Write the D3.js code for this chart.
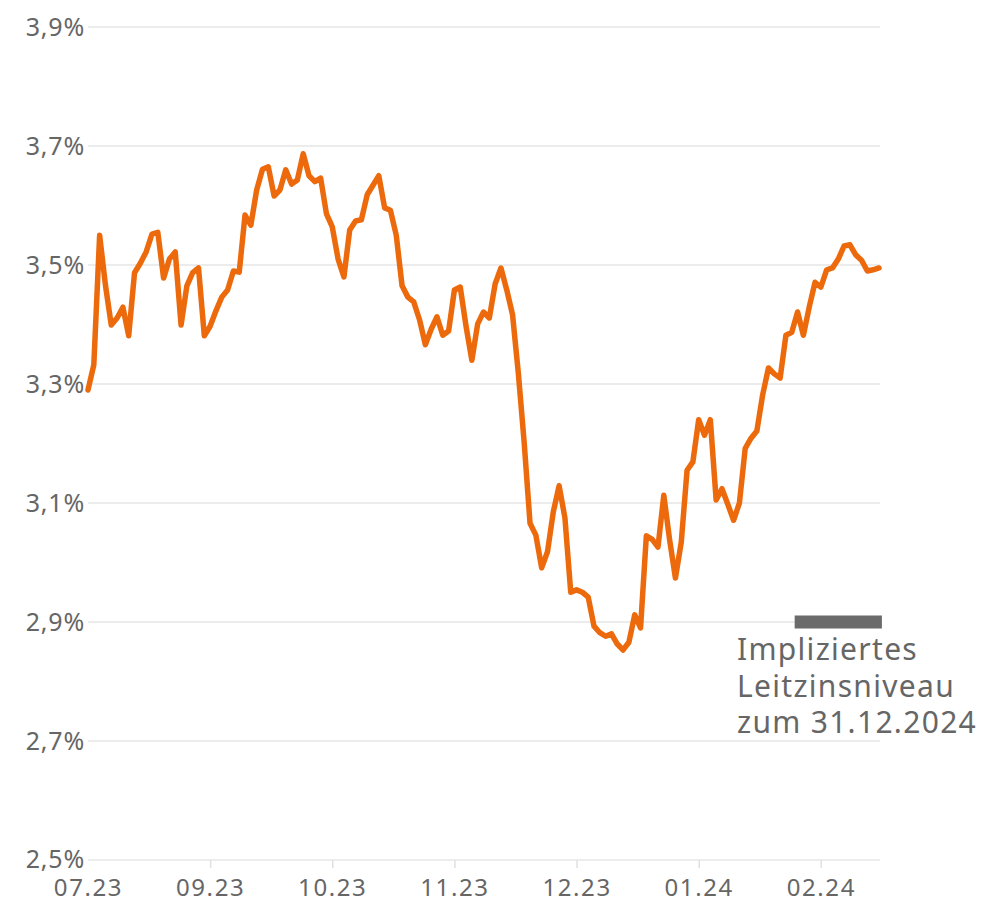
<!DOCTYPE html>
<html>
<head>
<meta charset="utf-8">
<script src="https://cdn.jsdelivr.net/npm/d3@7"></script>
<style>
  body { margin: 0; background: #fff; }
  svg text { font-family: "Noto Sans", sans-serif; fill: #666; }
</style>
</head>
<body>
<div id="chart"></div>
<script>
// values, one per trading day (even spacing)
const rates = [
  3.290, 3.332, 3.550, 3.466, 3.399, 3.411, 3.429, 3.381, 3.487, 3.503,
  3.522, 3.552, 3.555, 3.478, 3.510, 3.522, 3.399, 3.465, 3.487, 3.495,
  3.381, 3.397, 3.423, 3.446, 3.458, 3.490, 3.488, 3.584, 3.567, 3.626,
  3.661, 3.665, 3.616, 3.626, 3.660, 3.636, 3.643, 3.687, 3.650, 3.640,
  3.646, 3.586, 3.564, 3.510, 3.480, 3.559, 3.574, 3.576, 3.618, 3.634,
  3.650, 3.596, 3.592, 3.550, 3.465, 3.446, 3.438, 3.408, 3.366, 3.392,
  3.413, 3.382, 3.389, 3.458, 3.463, 3.397, 3.340, 3.401, 3.421, 3.411,
  3.468, 3.495, 3.458, 3.416, 3.317, 3.201, 3.066, 3.046, 2.991, 3.018,
  3.085, 3.129, 3.075, 2.950, 2.954, 2.950, 2.942, 2.893, 2.882, 2.876,
  2.880, 2.863, 2.853, 2.866, 2.912, 2.890, 3.045, 3.039, 3.026, 3.113,
  3.038, 2.974, 3.034, 3.155, 3.169, 3.240, 3.214, 3.240, 3.105, 3.124,
  3.098, 3.071, 3.100, 3.192, 3.209, 3.221, 3.282, 3.327, 3.317, 3.310,
  3.382, 3.387, 3.421, 3.382, 3.429, 3.471, 3.463, 3.492, 3.495, 3.510,
  3.532, 3.534, 3.517, 3.508, 3.490, 3.492, 3.495
];

const xTickIndex = [0, 21, 42, 63, 84, 105, 126];
const xTickLabels = ["07.23", "09.23", "10.23", "11.23", "12.23", "01.24", "02.24"];

const yTicks = [2.5, 2.7, 2.9, 3.1, 3.3, 3.5, 3.7, 3.9];
const yTickLabels = ["2,5%", "2,7%", "2,9%", "3,1%", "3,3%", "3,5%", "3,7%", "3,9%"];

// implied policy rate at 31.12.2024 and the span of the marker (in day index)
const impliedRate = 2.9;
const impliedSpan = [121.5, 136.5];
const impliedLabel = ["Impliziertes", "Leitzinsniveau", "zum 31.12.2024"];

const W = 993, H = 904;
const plot = { left: 88, right: 880, top: 27, bottom: 860 };

const svg = d3.select("#chart").append("svg")
    .attr("width", W)
    .attr("height", H);

const x = d3.scaleLinear()
    .domain([0, rates.length - 1])
    .range([plot.left, 879]);

const y = d3.scaleLinear()
    .domain([2.5, 3.9])
    .range([plot.bottom, plot.top]);

// gridlines
svg.append("g")
    .selectAll("line")
    .data(yTicks)
    .join("line")
    .attr("x1", plot.left)
    .attr("x2", plot.right)
    .attr("y1", d => y(d))
    .attr("y2", d => y(d))
    .attr("stroke", "#e6e6e6")
    .attr("stroke-width", 1.5);

// y labels
svg.append("g")
    .selectAll("text")
    .data(yTicks)
    .join("text")
    .attr("x", 85)
    .attr("y", d => y(d))
    .attr("dy", d => d === 2.5 ? "0.3em" : "0.36em")
    .attr("text-anchor", "end")
    .attr("font-size", 25)
    .attr("letter-spacing", "0.8px")
    .text((d, i) => yTickLabels[i]);

// x axis
const xAxis = svg.append("g")
    .attr("transform", `translate(0,${plot.bottom})`)
    .call(d3.axisBottom(x)
        .tickValues(xTickIndex)
        .tickFormat((d, i) => xTickLabels[i])
        .tickSize(8)
        .tickPadding(11));
xAxis.select(".domain").remove();
xAxis.selectAll(".tick line").attr("stroke", "#e0e0e0").attr("stroke-width", 1.5);
xAxis.selectAll(".tick").filter(d => d === 0).select("line").remove();
xAxis.selectAll(".tick text")
    .attr("font-size", 24)
    .attr("letter-spacing", "1.6px")
    .attr("fill", "#666")
    .style("font-family", "'Noto Sans', sans-serif");

// rate line
const line = d3.line()
    .x((d, i) => x(i))
    .y(d => y(d));

svg.append("path")
    .datum(rates)
    .attr("fill", "none")
    .attr("stroke", "#ec6a0c")
    .attr("stroke-width", 5.5)
    .attr("stroke-linejoin", "round")
    .attr("stroke-linecap", "round")
    .attr("d", line);

// implied rate marker
svg.append("rect")
    .attr("x", x(impliedSpan[0]))
    .attr("width", x(impliedSpan[1]) - x(impliedSpan[0]))
    .attr("y", y(impliedRate) - 6.5)
    .attr("height", 13)
    .attr("fill", "#6b6b6b");

// annotation as one text block with three lines
svg.append("text")
    .attr("x", 737)
    .attr("y", y(impliedRate) + 38)
    .attr("font-size", 30)
    .attr("letter-spacing", "1.3px")
    .selectAll("tspan")
    .data(impliedLabel)
    .join("tspan")
    .attr("x", 737)
    .attr("dy", (d, i) => i === 0 ? 0 : 36.5)
    .text(d => d);
</script>
</body>
</html>
